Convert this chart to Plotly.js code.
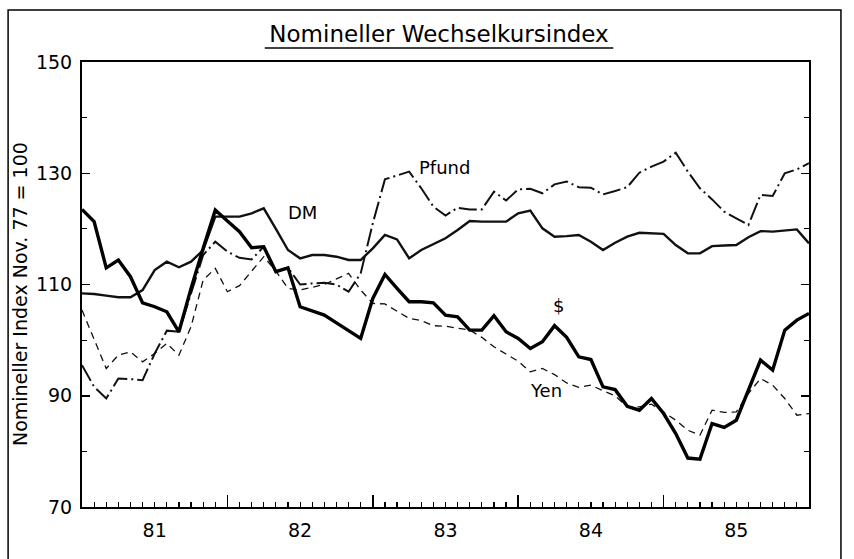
<!DOCTYPE html>
<html><head><meta charset="utf-8">
<script src="https://cdn.plot.ly/plotly-3.0.1.min.js"></script>
<style>body{margin:0;background:#fff}#c{width:854px;height:559px}</style>
</head><body><div id="c"></div>
<script>
// month index 0 = Jan 1981 ... 60 = Jan 1986
const months = Array.from({length: 61}, (_, i) => i);
const yearTickVals = [6, 18, 30, 42, 54];
const yearLabels = ['81', '82', '83', '84', '85'];
const yTickVals = [70, 90, 110, 130, 150];

const dm = [108.4,108.3,108.0,107.7,107.7,109.0,112.6,114.1,113.1,114.1,
  116.2,122.2,122.2,122.2,122.8,123.7,120.0,116.2,114.7,115.3,
  115.3,115.0,114.4,114.4,116.5,118.9,118.1,114.7,116.2,117.3,
  118.3,119.8,121.4,121.3,121.3,121.3,122.8,123.3,120.1,118.6,
  118.7,118.9,117.7,116.2,117.5,118.6,119.3,119.2,119.1,117.1,
  115.6,115.6,116.9,117.0,117.1,118.5,119.6,119.5,119.7,119.9,117.4];
const dollar = [123.5,121.3,113.0,114.4,111.4,106.7,106.0,105.1,101.5,109.3,
  116.5,123.4,121.4,119.5,116.6,116.8,112.3,113.0,106.0,105.2,
  104.5,103.1,101.7,100.3,107.5,111.8,109.3,106.9,106.9,106.7,
  104.5,104.2,101.8,101.8,104.4,101.5,100.3,98.5,99.7,102.6,
  100.5,97.0,96.5,91.6,91.1,88.1,87.4,89.5,86.8,83.2,
  78.8,78.6,85.0,84.3,85.6,91.0,96.4,94.6,101.8,103.6,104.8];
const pfund = [95.5,91.6,89.5,93.1,93.0,92.8,97.6,101.7,101.5,108.5,
  115.3,117.7,115.9,114.8,114.5,116.8,112.3,113.0,110.0,110.2,
  110.3,110.0,108.7,112.0,121.0,128.9,129.6,130.3,127.3,124.0,
  122.4,123.8,123.5,123.5,126.7,125.1,127.1,127.2,126.4,128.0,
  128.5,127.5,127.4,126.2,126.8,127.5,130.1,131.2,132.1,133.7,
  130.3,127.3,125.3,123.1,121.9,120.7,126.1,125.9,130.0,130.7,131.8];
const yen = [105.4,100.3,94.9,97.3,97.9,96.1,97.6,99.4,97.3,102.4,
  110.8,112.9,108.7,109.8,112.5,115.0,112.4,109.3,109.0,109.5,
  110.0,111.0,112.0,109.0,106.6,106.5,105.2,103.9,103.5,102.6,
  102.5,102.2,101.8,100.5,98.8,97.5,96.2,94.3,94.9,93.8,
  92.3,91.5,91.9,90.9,90.0,88.0,88.0,88.5,87.1,85.6,
  83.8,82.9,87.4,87.0,87.1,90.4,93.1,91.9,89.5,86.5,86.8];

const seriesLabels = ['DM', 'Pfund', '$', 'Yen'];
const labelX = [18.2, 29.9, 39.3, 38.3];
const labelY = [123.0, 131.1, 106.3, 91.0];
const yTitle = 'Nomineller Index Nov. 77 = 100';

const FONT = 'DejaVu Sans, Arial, sans-serif';
const traces = [
  {x: months, y: yen, mode: 'lines', line: {color: '#111', width: 1.3, dash: '7px,5px'}},
  {x: months, y: pfund, mode: 'lines', line: {color: '#111', width: 2, dash: '18px,4px,2px,4px'}},
  {x: months, y: dm, mode: 'lines', line: {color: '#111', width: 2.4}},
  {x: months, y: dollar, mode: 'lines', line: {color: '#000', width: 3.4}},
  {x: [0], y: [null], xaxis: 'x2', mode: 'lines', hoverinfo: 'skip'}
];

const annotations = seriesLabels.map((t, i) => ({x: labelX[i], y: labelY[i], xref: 'x', yref: 'y', text: t,
          showarrow: false, font: {family: FONT, size: 18, color: '#000'}}));
annotations.push({x: (20 - 82) / 728, y: (507 - 294) / 445, xref: 'paper', yref: 'paper', text: yTitle,
          textangle: -90, showarrow: false, xanchor: 'center', yanchor: 'middle',
          font: {family: FONT, size: 19, color: '#000'}});

const layout = {
  width: 854, height: 559,
  margin: {l: 82, r: 45, t: 62, b: 52},
  paper_bgcolor: '#fff', plot_bgcolor: '#fff',
  showlegend: false,
  font: {family: FONT, color: '#000', size: 18},
  title: {text: 'Nomineller Wechselkursindex', x: 439 / 854, xref: 'container', xanchor: 'center',
          y: 0.94, yref: 'container', yanchor: 'middle', font: {family: FONT, size: 23, color: '#000'}},
  xaxis: {range: [0, 60], showgrid: false, zeroline: false, showline: true, linewidth: 2, linecolor: '#000',
          mirror: true, tickmode: 'array', tickvals: [0, 12, 24, 36, 48, 60], ticks: 'inside', ticklen: 12,
          tickwidth: 1.5, tickcolor: '#000', showticklabels: false,
          minor: {dtick: 1, tick0: 0, ticks: 'inside', ticklen: 5, tickwidth: 1.2, tickcolor: '#000', showgrid: false}},
  xaxis2: {range: [0, 60], overlaying: 'x', anchor: 'y', side: 'bottom', showgrid: false, zeroline: false,
           showline: false, tickmode: 'array', tickvals: yearTickVals, ticktext: yearLabels, ticks: '',
           ticklabelstandoff: 10, tickfont: {family: FONT, size: 19, color: '#000'}},
  yaxis: {range: [70, 150], showgrid: false, zeroline: false, showline: true, linewidth: 2, linecolor: '#000',
          mirror: 'ticks', tickmode: 'array', tickvals: yTickVals, ticks: 'inside', ticklen: 8, tickwidth: 1.5,
          tickcolor: '#000', ticklabelstandoff: 4, tickfont: {family: FONT, size: 19, color: '#000'},
          minor: {dtick: 10, tick0: 70, ticks: 'inside', ticklen: 5, tickwidth: 1.2, tickcolor: '#000', showgrid: false}},
  annotations: annotations,
  shapes: [
    {type: 'line', xref: 'paper', yref: 'paper', x0: (265-82)/728, x1: (614-82)/728, y0: (507-48)/445, y1: (507-48)/445,
     line: {color: '#000', width: 1.5}},
    {type: 'path', xref: 'paper', yref: 'paper',
     path: 'M ' + ((8-82)/728) + ' ' + ((507-559)/445) + ' L ' + ((8-82)/728) + ' ' + ((507-10)/445) +
           ' L ' + ((842-82)/728) + ' ' + ((507-10)/445) + ' L ' + ((842-82)/728) + ' ' + ((507-559)/445),
     line: {color: '#000', width: 1.5}}
  ]
};
Plotly.newPlot('c', traces, layout, {staticPlot: true});
</script></body></html>
